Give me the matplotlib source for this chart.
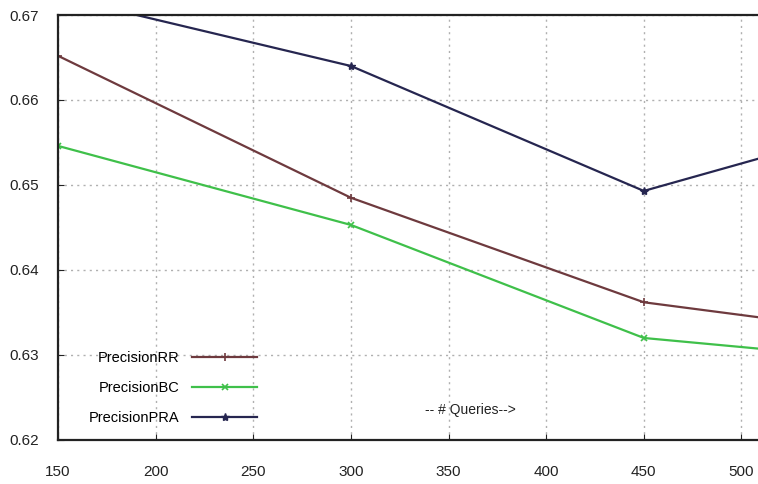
import matplotlib.pyplot as plt
import matplotlib.ticker as ticker

queries = [150, 300, 450, 600]
precision_rr = [0.6652, 0.6485, 0.6362, 0.6317]
precision_bc = [0.6546, 0.6453, 0.6320, 0.6288]
precision_pra = [0.6722, 0.6640, 0.6493, 0.6590]

x_ticks = [150, 200, 250, 300, 350, 400, 450, 500]
y_ticks = [0.62, 0.63, 0.64, 0.65, 0.66, 0.67]

plt.rcParams['font.family'] = ['Liberation Sans Narrow', 'Liberation Sans', 'DejaVu Sans']

fig = plt.figure(figsize=(7.58, 4.84), dpi=100)
ax = fig.add_axes([0.0765, 0.091, 0.93, 0.878])

ax.plot(queries, precision_rr, c='#6e3a3e', lw=1.6, marker='+', ms=6, mew=1.2, label='PrecisionRR')
ax.plot(queries, precision_bc, c='#3fc04a', lw=1.6, marker='x', ms=5, mew=1.2, label='PrecisionBC')
ax.plot(queries, precision_pra, c='#262650', lw=1.6, marker='*', ms=6, mew=1, label='PrecisionPRA')

ax.set_xlim(150, 511)
ax.set_ylim(0.62, 0.67)
ax.xaxis.set_major_locator(ticker.FixedLocator(x_ticks))
ax.yaxis.set_major_locator(ticker.FixedLocator(y_ticks))
ax.yaxis.set_major_formatter(ticker.FormatStrFormatter('%.2f'))

ax.grid(True, ls=(0, (1.5, 3)), c='#b0b0b0', lw=1)
ax.tick_params(direction='in', length=4, labelsize=11, colors='#222222')
ax.tick_params(axis='x', pad=18)
ax.tick_params(axis='y', pad=14)

for side in ['left', 'bottom', 'top']:
    ax.spines[side].set_linewidth(1.6)
    ax.spines[side].set_color('#222222')
ax.spines['right'].set_visible(False)

leg = ax.legend(loc='lower left', bbox_to_anchor=(0.025, 0.005), markerfirst=False, frameon=False,
                fontsize=10.5, handlelength=4.4, labelspacing=1.1, handletextpad=0.9)
for t in leg.get_texts():
    t.set_ha('right')

ax.text(338, 0.6235, '-- # Queries-->', fontsize=10, color='#222222', va='center')

fig.savefig('out.png', dpi=100)
